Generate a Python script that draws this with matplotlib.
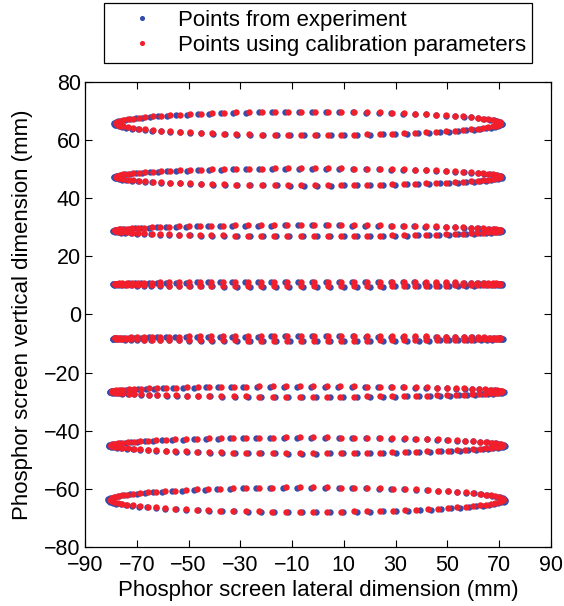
import numpy as np
import matplotlib.pyplot as plt

plt.rcParams['font.family'] = ['Liberation Sans', 'DejaVu Sans']

# one ring of spots per row on the phosphor screen
ring_cy = [65.8, 47.4, 28.9, 10.5, -8.2, -26.5, -45.0, -63.7]   # centre height (mm)
ring_ry = [4.0, 2.9, 1.9, 0.8, 0.8, 1.8, 2.7, 4.2]              # half height (mm)
ring_xl = [-78.0, -78.0, -78.4, -78.4, -78.5, -79.7, -80.1, -80.3]  # left end (mm)
ring_xr = [70.3, 70.3, 70.3, 70.3, 70.5, 70.9, 71.3, 71.5]       # right end (mm)
n_spots = 90

# experiment vs calibration: slight stretch and phase slip
exp_dx = 0.8
exp_phase = 0.012

blue = (0.2, 0.3, 0.68)
red = (0.94, 0.12, 0.17)

fig = plt.figure(figsize=(5.64, 6.06), dpi=100)
ax = fig.add_axes([0.1507, 0.0974, 0.8262, 0.7673])

t = np.arange(n_spots) * 2 * np.pi / n_spots
for k in range(len(ring_cy)):
    cx = (ring_xl[k] + ring_xr[k]) / 2
    rx = (ring_xr[k] - ring_xl[k]) / 2
    xe = cx + (rx + exp_dx) * np.cos(t + exp_phase)
    ye = ring_cy[k] - 0.15 + ring_ry[k] * np.sin(t + exp_phase)
    xc = cx + rx * np.cos(t)
    yc = ring_cy[k] + ring_ry[k] * np.sin(t)
    ax.plot(xe, ye, 'o', color=blue, ms=4.6, mew=0,
            label='Points from experiment' if k == 0 else None)
    ax.plot(xc, yc, 'o', color=red, ms=4.6, mew=0,
            label='Points using calibration parameters' if k == 0 else None)

ax.set_xlim(-90, 90)
ax.set_ylim(-80, 80)
ax.set_xticks(np.arange(-90, 91, 20))
ax.set_yticks(np.arange(-80, 81, 20))
ax.tick_params(direction='in', length=5, width=0.8, labelsize=15.5,
               top=True, right=True)
ax.tick_params(axis='x', pad=6)
ax.tick_params(axis='y', pad=3)
for s in ax.spines.values():
    s.set_linewidth(0.9)
ax.set_xlabel('Phosphor screen lateral dimension (mm)', fontsize=16, labelpad=3)
ax.set_ylabel('Phosphor screen vertical dimension (mm)', fontsize=16, labelpad=8)

h, l = ax.get_legend_handles_labels()
leg = fig.legend(h, l, loc='upper center', bbox_to_anchor=(0.564, 0.995),
                 borderaxespad=0, fontsize=16, fancybox=False,
                 edgecolor='black', framealpha=1,
                 handlelength=2.8, handletextpad=0.22, borderpad=0.3,
                 labelspacing=0.2, markerscale=0.8)
leg.get_frame().set_linewidth(0.9)

fig.savefig('out.png', dpi=100)
